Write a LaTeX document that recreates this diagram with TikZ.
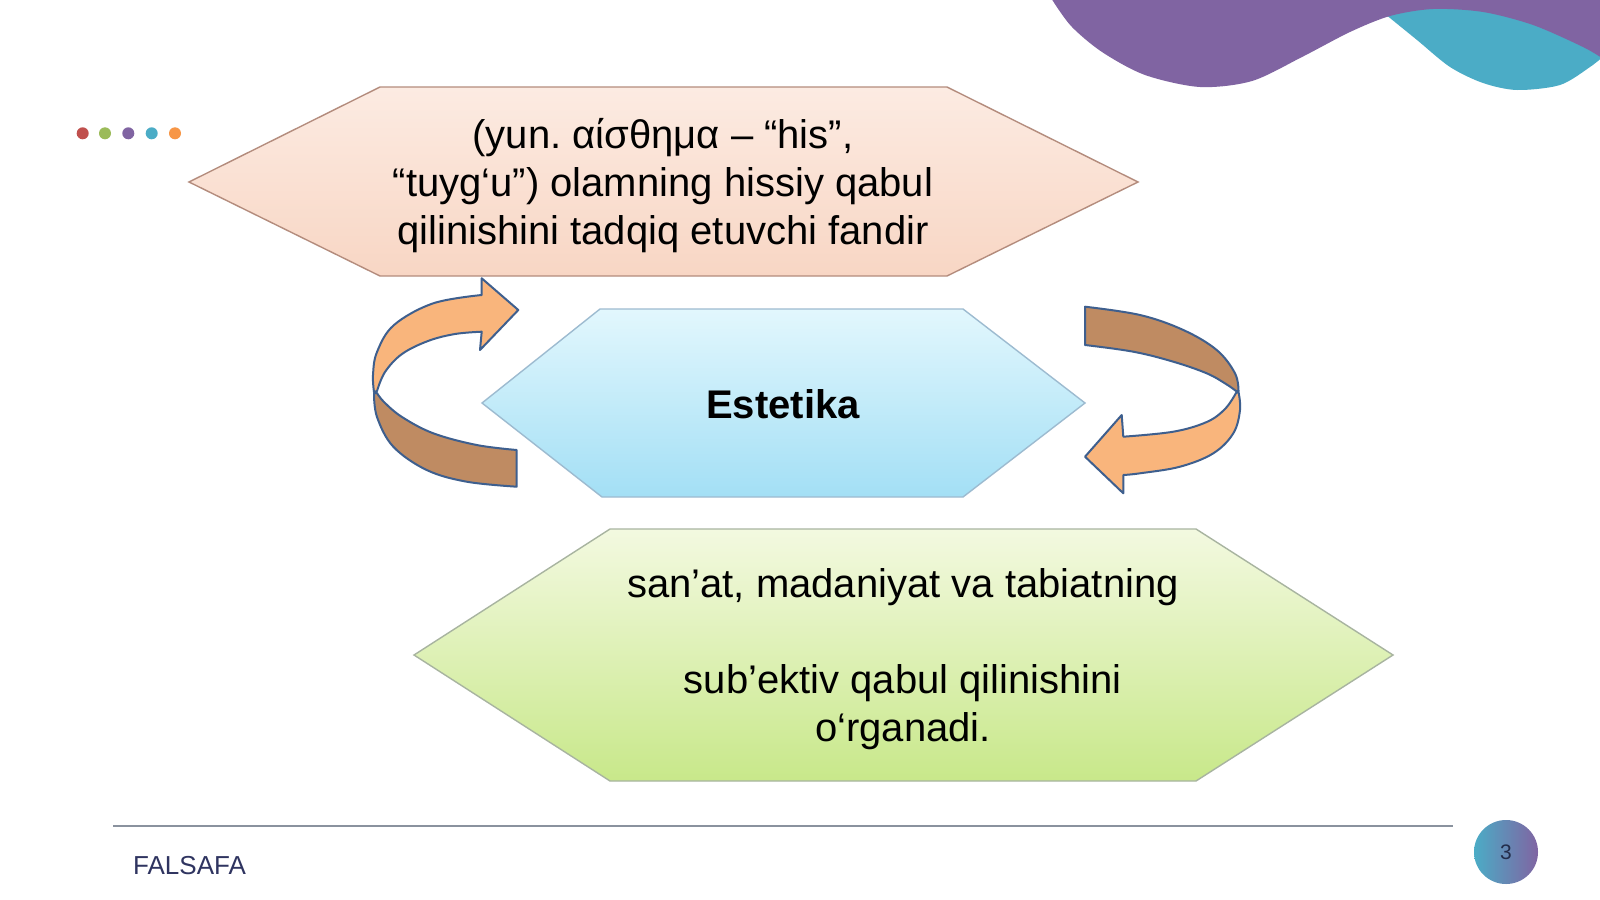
\documentclass[tikz,border=0pt]{standalone}
\usepackage{fontspec}
\setmainfont{Liberation Sans}
\definecolor{wavepurple}{HTML}{8064A2}
\definecolor{waveteal}{HTML}{4BACC6}
\definecolor{arrowlight}{HTML}{F9B57C}
\definecolor{arrowdark}{HTML}{BF8B62}
\definecolor{arrowedge}{HTML}{3E5F8E}
\definecolor{dotred}{HTML}{C0504D}
\definecolor{dotgreen}{HTML}{9BBB59}
\definecolor{dotpurple}{HTML}{8064A2}
\definecolor{dotteal}{HTML}{4BACC6}
\definecolor{dotorange}{HTML}{F79646}
\definecolor{footnavy}{HTML}{2F3460}
\definecolor{rulegray}{HTML}{8A929E}
\frenchspacing
\begin{document}
\begin{tikzpicture}[x=1pt,y=-1pt,
  hexbox/.style={line width=1.4pt, line join=miter},
  bandlight/.style={fill=arrowlight, draw=arrowedge, line width=2pt, line join=round},
  banddark/.style={fill=arrowdark, draw=arrowedge, line width=2pt, line join=round},
  bigtxt/.style={font=\fontsize{40}{48}\selectfont\frenchspacing, align=center, inner sep=0pt, text=black},
  dotmark/.style={circle, inner sep=0pt, minimum size=12pt}
]
\useasboundingbox (0,0) rectangle (1600,899);
\fill[white] (0,0) rectangle (1600,899);

% top-right waves
\fill[waveteal] plot[smooth] coordinates {(1385,14) (1417,40) (1450,67) (1483,83) (1517,90) (1560,85) (1590,67) (1605,55)} -- (1605,-5) -- (1385,-5) -- cycle;
\fill[wavepurple] plot[smooth] coordinates {(1051,-2) (1071,26) (1102,52) (1145,75) (1200,87) (1252,81) (1302,57) (1350,32) (1390,16) (1433,9) (1483,12) (1533,25) (1583,47) (1605,60)} -- (1605,-5) -- (1051,-5) -- cycle;

% dots
\node[dotmark, fill=dotred] (d1) at (82.7,133.3) {};
\node[dotmark, fill=dotgreen] (d2) at (105,133.3) {};
\node[dotmark, fill=dotpurple] (d3) at (128.3,133.3) {};
\node[dotmark, fill=dotteal] (d4) at (151.7,133.3) {};
\node[dotmark, fill=dotorange] (d5) at (175,133.3) {};

% top hexagon
\path[hexbox, draw={rgb,255:red,180;green,140;blue,125}, top color={rgb,255:red,252;green,235;blue,226}, bottom color={rgb,255:red,248;green,214;blue,196}]
  (189,182) -- (380,87) -- (947,87) -- (1138,182) -- (947,276) -- (380,276) -- cycle;
\node[bigtxt] (toptext) at (663,185.4) {(yun. αίσθημα – “his”,\\“tuyg‘u”) olamning hissiy qabul\\qilinishini tadqiq etuvchi fandir};

% middle hexagon
\path[hexbox, draw={rgb,255:red,157;green,187;blue,208}, top color={rgb,255:red,226;green,247;blue,253}, bottom color={rgb,255:red,163;green,223;blue,245}]
  (482,403) -- (600,309) -- (963,309) -- (1085,403) -- (963,497) -- (602,497) -- cycle;
\node[font=\fontsize{40}{48}\selectfont\bfseries, inner sep=0pt, anchor=base] (estetika) at (783,418) {Estetika};

% bottom hexagon
\path[hexbox, draw={rgb,255:red,168;green,180;blue,160}, top color={rgb,255:red,243;green,249;blue,224}, bottom color={rgb,255:red,200;green,232;blue,138}]
  (414,655) -- (610,529) -- (1196,529) -- (1393,655) -- (1196,781) -- (610,781) -- cycle;
\node[bigtxt] (bottomtext) at (903,658.9) {san’at, madaniyat va tabiatning\\[48pt]sub’ektiv qabul qilinishini\\o‘rganadi.};

% left circular arrow
\path[banddark] plot[smooth, tension=0.6] coordinates {(374,393) (377,417) (393.3,446.7) (426.7,470) (466.7,481.7) (516.7,486.7)}
  -- plot[smooth, tension=0.6] coordinates {(516.7,450) (476.7,445) (433.3,433.3) (402,417) (384,402) (377,393)} -- cycle;
\path[bandlight] plot[smooth, tension=0.6] coordinates {(481.7,295) (433.3,303.3) (394,325) (377,352) (373,375) (374,392)}
  -- plot[smooth, tension=0.6] coordinates {(377,391) (385,372) (402,354) (428,341) (455,334) (481.7,331.7)}
  -- (480,350) -- (518.3,310) -- (481.7,278.3) -- cycle;

% right circular arrow
\path[banddark] plot[smooth, tension=0.6] coordinates {(1085,306.7) (1140,315) (1183.3,330) (1216.7,350) (1235,373.3) (1238.5,391)}
  -- plot[smooth, tension=0.6] coordinates {(1236,391) (1226,384) (1206.7,373.3) (1173.3,361.7) (1133.3,351.7) (1085,345)} -- cycle;
\path[bandlight] plot[smooth, tension=0.6] coordinates {(1123.3,436.7) (1173.3,431.7) (1206.7,422) (1225,409) (1236,393)}
  -- plot[smooth, tension=0.6] coordinates {(1238.5,392) (1240,410) (1233.3,433.3) (1213.3,453.3) (1180,466.7) (1140,473.3) (1123.3,475)}
  -- (1123.3,493.3) -- (1085,456.7) -- (1121.7,415) -- cycle;

% footer
\coordinate (ruleL) at (113,825.5);
\coordinate (ruleR) at (1453,825.5);
\draw[rulegray, line width=2pt] (ruleL) -- (ruleR);
\node[font=\fontsize{26}{30}\selectfont, text=footnavy, inner sep=0pt, anchor=base west] (falsafa) at (133,874) {FALSAFA};
\node[circle, minimum size=64pt, inner sep=0pt, left color=waveteal, right color=wavepurple, font=\fontsize{21}{24}\selectfont, text={rgb,255:red,35;green,45;blue,75}] (pagenum) at (1506,852) {3};
\end{tikzpicture}
\end{document}
